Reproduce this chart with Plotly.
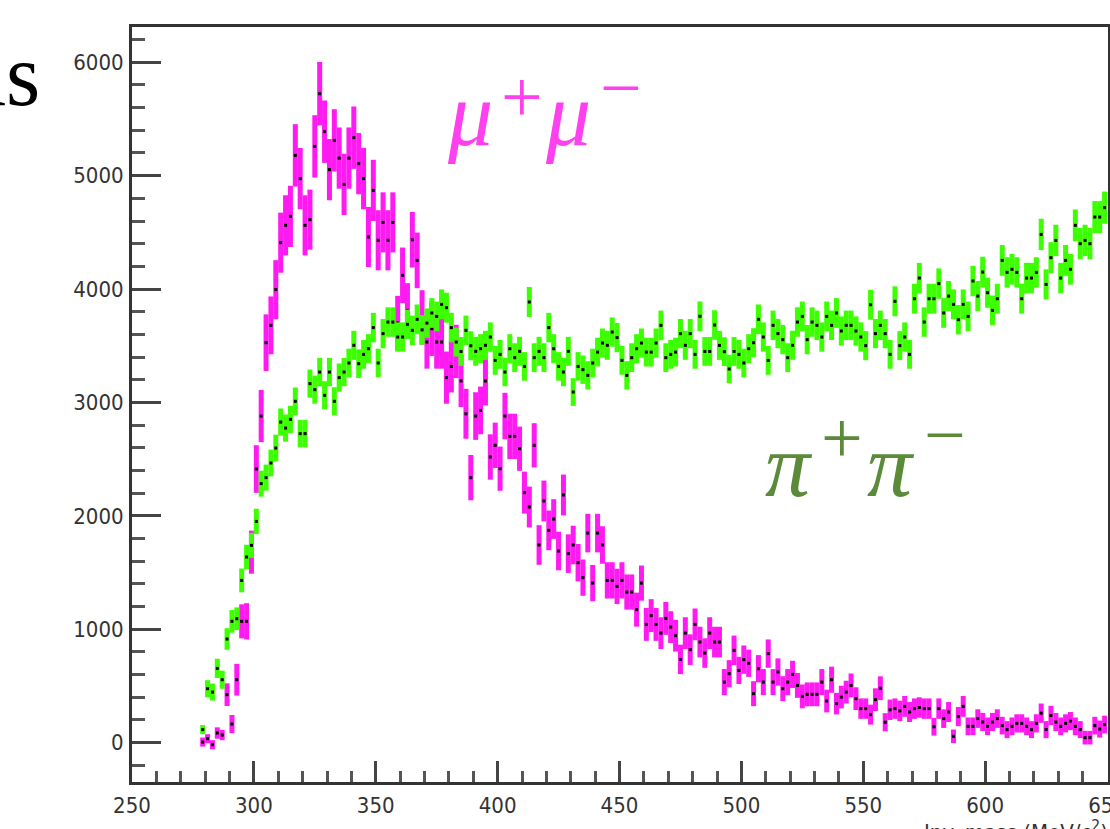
import plotly.graph_objects as go

# Histogram bins: 2 MeV wide, first filled bin centred at 279 MeV
BIN_LOW = 278
BIN_WIDTH = 2
N_BINS = 186
bin_centers = [BIN_LOW + BIN_WIDTH / 2 + BIN_WIDTH * i for i in range(N_BINS)]

mumu_counts = [
    5, 35, -18, 85, 67, 423, 164, 555, 1070, 1070,
    1680, 2413, 2880, 3527, 3680, 3995, 4409, 4562, 4641, 5179,
    4974, 4562, 4612, 5258, 5723, 5388, 5053, 5311, 5155, 4923,
    5155, 5335, 5106, 4974, 4459, 4870, 4430, 4588, 4430, 4588,
    3700, 4121, 3812, 4435, 4253, 3750, 3533, 3650, 3533, 3533,
    3219, 3318, 3450, 3190, 2900, 2337, 2880, 2930, 3189, 2519,
    2622, 2416, 2880, 2701, 2701, 2592, 2205, 2078, 2622, 1743,
    2131, 1872, 1972, 1690, 2184, 1667, 1743, 1587, 1455, 1848,
    1407, 1848, 1743, 1431, 1431, 1378, 1431, 1328, 1328, 1173,
    1407, 1043, 1120, 1043, 966, 1096, 1019, 943, 734, 966,
    820, 1043, 887, 790, 966, 887, 887, 534, 608, 814,
    637, 732, 700, 432, 652, 534, 785, 534, 623, 476,
    534, 602, 505, 408, 426, 426, 426, 534, 367, 555,
    344, 402, 446, 505, 388, 300, 300, 247, 379, 480,
    180, 290, 300, 280, 320, 270, 300, 310, 300, 300,
    140, 300, 212, 270, 56, 230, 320, 144, 144, 212,
    182, 144, 182, 212, 150, 115, 144, 170, 170, 144,
    115, 170, 260, 115, 240, 182, 144, 170, 190, 144,
    115, 44, 44, 150, 120, 160,
]

mumu_errors = [
    40, 40, 40, 50, 45, 100, 80, 140, 150, 160,
    190, 210, 230, 250, 255, 260, 265, 265, 270, 275,
    270, 265, 265, 275, 280, 275, 270, 275, 270, 270,
    270, 275, 270, 270, 265, 270, 265, 265, 265, 265,
    240, 245, 240, 245, 245, 240, 235, 240, 235, 235,
    230, 230, 235, 230, 220, 200, 210, 210, 215, 200,
    200, 195, 205, 200, 200, 195, 185, 180, 195, 175,
    180, 175, 175, 170, 180, 170, 170, 165, 160, 170,
    160, 170, 165, 160, 160, 155, 160, 155, 155, 150,
    155, 145, 145, 145, 140, 145, 140, 140, 130, 140,
    135, 140, 135, 130, 140, 135, 135, 115, 120, 130,
    120, 125, 120, 110, 120, 115, 125, 115, 120, 110,
    115, 120, 110, 105, 105, 105, 105, 115, 100, 115,
    95, 100, 100, 105, 100, 90, 90, 88, 100, 105,
    80, 90, 90, 90, 92, 88, 90, 90, 90, 90,
    78, 90, 82, 88, 60, 85, 92, 78, 78, 82,
    80, 78, 80, 82, 78, 75, 78, 80, 80, 78,
    75, 80, 85, 75, 85, 80, 78, 80, 80, 78,
    75, 60, 60, 78, 75, 78,
]

pipi_counts = [
    115, 476, 446, 655, 555, 914, 1070, 1093, 1431, 1637,
    1740, 1951, 2284, 2337, 2466, 2598, 2827, 2774, 2851, 3010,
    2725, 2725, 3166, 3113, 3268, 3063, 3268, 3010, 3219, 3268,
    3348, 3504, 3342, 3424, 3474, 3660, 3348, 3607, 3709, 3709,
    3577, 3577, 3689, 3636, 3733, 3640, 3700, 3789, 3759, 3865,
    3836, 3660, 3533, 3450, 3636, 3500, 3451, 3474, 3504, 3577,
    3371, 3424, 3268, 3474, 3395, 3451, 3318, 3886, 3395, 3451,
    3395, 3660, 3474, 3318, 3268, 3451, 3092, 3318, 3289, 3239,
    3348, 3444, 3524, 3504, 3621, 3572, 3371, 3239, 3395, 3474,
    3524, 3444, 3444, 3524, 3680, 3395, 3424, 3444, 3607, 3504,
    3607, 3424, 3760, 3450, 3450, 3683, 3503, 3448, 3295, 3450,
    3424, 3348, 3474, 3527, 3733, 3577, 3371, 3680, 3607, 3554,
    3395, 3504, 3709, 3759, 3554, 3709, 3680, 3577, 3759, 3680,
    3789, 3630, 3680, 3680, 3630, 3577, 3501, 3862, 3607, 3680,
    3607, 3424, 3892, 3501, 3577, 3424, 3915, 4097, 3709, 3915,
    3915, 4048, 3789, 3938, 3865, 3730, 3865, 3759, 4071, 3938,
    4150, 3968, 3812, 3915, 4253, 4147, 4174, 4147, 3915, 4097,
    4097, 4147, 4482, 4041, 4277, 4429, 4097, 4253, 4174, 4562,
    4400, 4429, 4400, 4635, 4635, 4718,
]

pipi_errors = [
    40, 75, 75, 85, 80, 95, 100, 100, 105, 108,
    110, 112, 115, 115, 118, 118, 120, 120, 120, 122,
    120, 120, 124, 124, 125, 124, 125, 124, 125, 125,
    126, 128, 126, 127, 128, 130, 126, 129, 130, 130,
    129, 129, 130, 130, 131, 130, 130, 131, 131, 132,
    132, 130, 128, 127, 130, 128, 128, 128, 128, 129,
    127, 127, 125, 128, 127, 128, 126, 132, 127, 128,
    127, 130, 128, 126, 125, 128, 122, 126, 125, 125,
    126, 127, 128, 128, 129, 129, 127, 125, 127, 128,
    128, 127, 127, 128, 130, 127, 127, 127, 129, 128,
    129, 127, 131, 127, 127, 130, 128, 127, 125, 127,
    127, 126, 128, 128, 131, 129, 127, 130, 129, 129,
    127, 128, 130, 131, 129, 130, 130, 129, 131, 130,
    131, 129, 130, 130, 129, 129, 128, 132, 129, 130,
    129, 127, 132, 128, 129, 127, 132, 134, 130, 132,
    132, 134, 131, 133, 132, 130, 132, 131, 134, 133,
    135, 133, 131, 132, 136, 134, 135, 134, 132, 134,
    134, 134, 138, 133, 136, 138, 134, 136, 135, 140,
    138, 138, 138, 141, 141, 142,
]

x_tick_values = [250, 300, 350, 400, 450, 500, 550, 600, 650]
y_tick_values = [0, 1000, 2000, 3000, 4000, 5000, 6000]

MAGENTA = "#ff1af2"
GREEN = "#3cff00"
MU_LABEL_COLOR = "#ff40ef"
PI_LABEL_COLOR = "#5b8a38"
SANS = "DejaVu Sans Condensed, Liberation Sans Narrow, Arial, sans-serif"
SERIF = "Liberation Serif, Times New Roman, serif"
TICK_FONT = dict(family=SANS, size=22, color="#333333")

# plot-area geometry in page pixels (used only to place free text labels)
PLOT_L, PLOT_R, PLOT_T, PLOT_B = 132, 1108, 27, 782


def px_to_paper(px, py):
    return (px - PLOT_L) / (PLOT_R - PLOT_L), (PLOT_B - py) / (PLOT_B - PLOT_T)


def glyph(text, px, py, size, color, italic=True):
    x, y = px_to_paper(px, py)
    t = "<i>" + text + "</i>" if italic else text
    return dict(text=t, xref="paper", yref="paper", x=x, y=y,
                xanchor="center", yanchor="middle", showarrow=False,
                font=dict(family=SERIF, size=size, color=color))


fig = go.Figure()

fig.add_trace(go.Scatter(
    x=bin_centers, y=mumu_counts, mode="markers",
    marker=dict(color="black", size=3, symbol="square"),
    error_y=dict(type="data", array=mumu_errors, visible=True,
                 thickness=5, width=0, color=MAGENTA),
    name="mu+mu-", hoverinfo="x+y",
))
fig.add_trace(go.Scatter(
    x=bin_centers, y=pipi_counts, mode="markers",
    marker=dict(color="black", size=3, symbol="square"),
    error_y=dict(type="data", array=pipi_errors, visible=True,
                 thickness=5, width=0, color=GREEN),
    name="pi+pi-", hoverinfo="x+y",
))

axis_common = dict(
    showline=True, linewidth=3, linecolor="#333333", mirror=True,
    showgrid=False, zeroline=False, ticks="inside", tickcolor="#444444",
    tickfont=TICK_FONT, automargin=False,
)

fig.update_xaxes(
    range=[250, 650.4], tickmode="array", tickvals=x_tick_values,
    ticklen=21, tickwidth=3, ticklabelstandoff=2, ticklabeloverflow="allow",
    minor=dict(ticks="inside", ticklen=11, tickwidth=3, tickcolor="#555555",
               dtick=10, tick0=250, showgrid=False),
    **axis_common,
)
fig.update_yaxes(
    range=[-347, 6311], tickmode="array", tickvals=y_tick_values,
    ticklen=29, tickwidth=3, ticklabelstandoff=1,
    minor=dict(ticks="inside", ticklen=13, tickwidth=3, tickcolor="#555555",
               dtick=200, tick0=0, showgrid=False),
    **axis_common,
)

title_x, title_y = px_to_paper(922, 815)
as_x, as_y = px_to_paper(42, 76)

annotations = [
    dict(text="as", xref="paper", yref="paper", x=as_x, y=as_y,
         xanchor="right", yanchor="middle", showarrow=False,
         font=dict(family=SERIF, size=88, color="black")),
    # mu+ mu-
    glyph("μ", 470, 115, 90, MU_LABEL_COLOR),
    glyph("+", 522, 97, 74, MU_LABEL_COLOR, italic=False),
    glyph("μ", 568, 115, 90, MU_LABEL_COLOR),
    glyph("−", 621, 88, 74, MU_LABEL_COLOR, italic=False),
    # pi+ pi-
    glyph("π", 789, 465, 90, PI_LABEL_COLOR),
    glyph("+", 842, 438, 74, PI_LABEL_COLOR, italic=False),
    glyph("π", 891, 465, 90, PI_LABEL_COLOR),
    glyph("−", 945, 435, 74, PI_LABEL_COLOR, italic=False),
    dict(text="Inv. mass (MeV/c<sup>2</sup>)", xref="paper", yref="paper",
         x=title_x, y=title_y, xanchor="left", yanchor="top", showarrow=False,
         font=dict(family=SANS, size=22, color="#333333")),
]

fig.update_layout(
    width=1110, height=829,
    margin=dict(l=PLOT_L, r=1110 - PLOT_R, t=PLOT_T, b=829 - PLOT_B, autoexpand=False),
    plot_bgcolor="white", paper_bgcolor="white",
    showlegend=False,
    annotations=annotations,
)

fig.write_html("out.html")
